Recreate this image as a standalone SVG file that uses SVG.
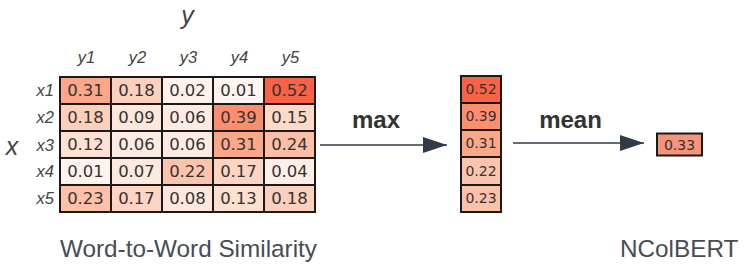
<svg xmlns="http://www.w3.org/2000/svg" width="747" height="269" viewBox="0 0 747 269">
<defs>
<style>
.cell{stroke:#1a1a1a;stroke-width:2}
.num{font-family:"DejaVu Sans",sans-serif;font-size:16.5px;fill:#333;text-anchor:middle}
.vnum{font-family:"DejaVu Sans",sans-serif;font-size:14px;fill:#333;text-anchor:middle}
.lab{font-family:"Liberation Sans",Arial,sans-serif;font-style:italic;font-size:16.5px;fill:#444}
.big{font-family:"Liberation Sans",Arial,sans-serif;font-style:italic;font-size:25px;fill:#444}
.op{font-family:"Liberation Sans",Arial,sans-serif;font-weight:bold;font-size:24px;fill:#333;text-anchor:middle}
.cap{font-family:"Liberation Sans",Arial,sans-serif;font-size:24.3px;fill:#474d55}
.conn{stroke:#2f3b47;stroke-width:1.5;fill:none}
</style>
<marker id="ah" viewBox="0 0 24 16" refX="24" refY="8" markerWidth="24" markerHeight="16" markerUnits="userSpaceOnUse" orient="auto">
<path d="M0,0 L24,8 L0,16 Z" fill="#2f3b47"/>
</marker>
</defs>
<rect width="747" height="269" fill="#fff"/>

<g id="matrix">
<text class="big" x="187.5" y="24" text-anchor="middle">y</text>
<text class="big" x="12" y="155" text-anchor="middle">x</text>
<text class="lab" x="86.5" y="63" text-anchor="middle">y1</text>
<text class="lab" x="137.5" y="63" text-anchor="middle">y2</text>
<text class="lab" x="188.5" y="63" text-anchor="middle">y3</text>
<text class="lab" x="239.5" y="63" text-anchor="middle">y4</text>
<text class="lab" x="290.5" y="63" text-anchor="middle">y5</text>
<text class="lab" x="54" y="96" text-anchor="end">x1</text>
<text class="lab" x="54" y="123" text-anchor="end">x2</text>
<text class="lab" x="54" y="150.5" text-anchor="end">x3</text>
<text class="lab" x="54" y="177" text-anchor="end">x4</text>
<text class="lab" x="54" y="204" text-anchor="end">x5</text>

<rect class="cell" x="60" y="77" width="51" height="27" fill="#fca78a"/>
<rect class="cell" x="111" y="77" width="51" height="27" fill="#fdd0bd"/>
<rect class="cell" x="162" y="77" width="51" height="27" fill="#fff2eb"/>
<rect class="cell" x="213" y="77" width="51" height="27" fill="#fff3ee"/>
<rect class="cell" x="264" y="77" width="51" height="27" fill="#f96245"/>

<rect class="cell" x="60" y="104" width="51" height="27" fill="#fdd0bd"/>
<rect class="cell" x="111" y="104" width="51" height="27" fill="#fee6da"/>
<rect class="cell" x="162" y="104" width="51" height="27" fill="#ffebe2"/>
<rect class="cell" x="213" y="104" width="51" height="27" fill="#fc8d6d"/>
<rect class="cell" x="264" y="104" width="51" height="27" fill="#fed9c8"/>

<rect class="cell" x="60" y="131" width="51" height="27" fill="#fee1d4"/>
<rect class="cell" x="111" y="131" width="51" height="27" fill="#ffebe2"/>
<rect class="cell" x="162" y="131" width="51" height="27" fill="#ffebe2"/>
<rect class="cell" x="213" y="131" width="51" height="27" fill="#fca78a"/>
<rect class="cell" x="264" y="131" width="51" height="27" fill="#fcbea4"/>

<rect class="cell" x="60" y="158" width="51" height="27" fill="#fff3ee"/>
<rect class="cell" x="111" y="158" width="51" height="27" fill="#fee9df"/>
<rect class="cell" x="162" y="158" width="51" height="27" fill="#fcc4ac"/>
<rect class="cell" x="213" y="158" width="51" height="27" fill="#fdd3c1"/>
<rect class="cell" x="264" y="158" width="51" height="27" fill="#ffeee6"/>

<rect class="cell" x="60" y="185" width="51" height="27" fill="#fcc1a8"/>
<rect class="cell" x="111" y="185" width="51" height="27" fill="#fdd3c1"/>
<rect class="cell" x="162" y="185" width="51" height="27" fill="#fee8dd"/>
<rect class="cell" x="213" y="185" width="51" height="27" fill="#fedfd0"/>
<rect class="cell" x="264" y="185" width="51" height="27" fill="#fdd0bd"/>

<text class="num" x="85.5" y="96">0.31</text>
<text class="num" x="136.5" y="96">0.18</text>
<text class="num" x="187.5" y="96">0.02</text>
<text class="num" x="238.5" y="96">0.01</text>
<text class="num" x="289.5" y="96">0.52</text>

<text class="num" x="85.5" y="123">0.18</text>
<text class="num" x="136.5" y="123">0.09</text>
<text class="num" x="187.5" y="123">0.06</text>
<text class="num" x="238.5" y="123">0.39</text>
<text class="num" x="289.5" y="123">0.15</text>

<text class="num" x="85.5" y="150">0.12</text>
<text class="num" x="136.5" y="150">0.06</text>
<text class="num" x="187.5" y="150">0.06</text>
<text class="num" x="238.5" y="150">0.31</text>
<text class="num" x="289.5" y="150">0.24</text>

<text class="num" x="85.5" y="177">0.01</text>
<text class="num" x="136.5" y="177">0.07</text>
<text class="num" x="187.5" y="177">0.22</text>
<text class="num" x="238.5" y="177">0.17</text>
<text class="num" x="289.5" y="177">0.04</text>

<text class="num" x="85.5" y="204">0.23</text>
<text class="num" x="136.5" y="204">0.17</text>
<text class="num" x="187.5" y="204">0.08</text>
<text class="num" x="238.5" y="204">0.13</text>
<text class="num" x="289.5" y="204">0.18</text>

<text class="cap" x="60" y="257">Word-to-Word Similarity</text>
</g>

<g id="maxvector">
<rect class="cell" x="461" y="76" width="40" height="27" fill="#f96245"/>
<rect class="cell" x="461" y="103" width="40" height="27" fill="#fc8d6d"/>
<rect class="cell" x="461" y="130" width="40" height="27" fill="#fca78a"/>
<rect class="cell" x="461" y="157" width="40" height="28" fill="#fcc4ac"/>
<rect class="cell" x="461" y="185" width="40" height="27" fill="#fcc1a8"/>
<text class="vnum" x="481" y="94">0.52</text>
<text class="vnum" x="481" y="121">0.39</text>
<text class="vnum" x="481" y="148">0.31</text>
<text class="vnum" x="481" y="175.5">0.22</text>
<text class="vnum" x="481" y="203">0.23</text>
</g>

<g id="output">
<rect class="cell" x="657" y="133.5" width="45" height="22" fill="#f7937a"/>
<text class="vnum" x="679.5" y="150">0.33</text>
<text class="cap" x="620" y="257">NColBERT</text>
</g>

<g id="connectors">
<line class="conn" x1="320" y1="145" x2="447" y2="145" marker-end="url(#ah)"/>
<text class="op" x="376" y="128">max</text>
<line class="conn" x1="513" y1="143" x2="644" y2="143" marker-end="url(#ah)"/>
<text class="op" x="570.5" y="128">mean</text>
</g>
</svg>
